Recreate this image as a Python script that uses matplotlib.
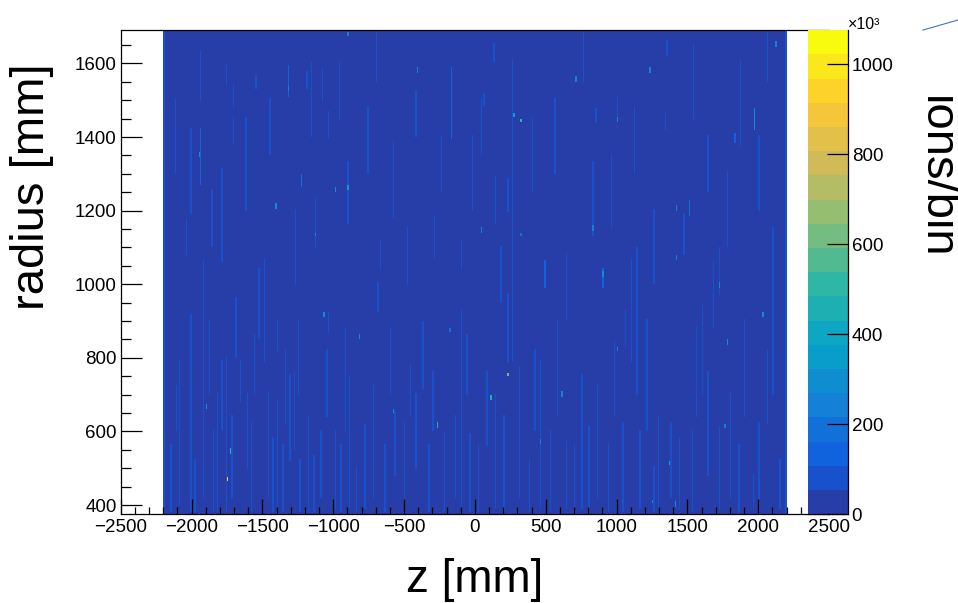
import numpy as np
import matplotlib
matplotlib.use("Agg")
import matplotlib.pyplot as plt
from matplotlib.colors import LinearSegmentedColormap, ListedColormap, BoundaryNorm
from matplotlib.lines import Line2D

plt.rcParams['font.family'] = ['Liberation Sans', 'DejaVu Sans']

# binning of the histogram (mm)
z_edges = np.arange(-2200, 2201, 10)
r_edges = np.arange(375, 1691, 5)
background = 30          # x10^3 ions/bin, level of the quiet bins
z_max = 1076             # x10^3, top of the palette

# vertical streaks: z, r from, r to, content (x10^3)
streak_z = [-2195, 2195, -2007, -2007, -1936, -1936, -1918, -1786, -1786, -1753,
            -1753, -1701, -1701, -1541, -1527, -1484, -1400, -1315, -1221, -1127,
            -2040, -1659, -1607, -1306, -1273, -1188, -2083, -1847, -1426, -1400,
            -1233, -1140,
            -162, -576, -891, -289, -364, -100, -100, -882, -684, -665,
            -1037, -1071, -411, -990, -778, -566, -213, -35, -1037,
            262, 234, 234, 832, 907, 493, 460, 751, 1001, 69,
            135, 850, 140, 149, 318, 643, 808, 1062, 1104,
            1971, 1872, 1143, 1722, 2107, 1519, 1604, 1477, 1350, 1684,
            1345, 1830, 1166, 1298, 1380, 1448, 1641, 1722, 1966, 2150,
            # lower part, denser
            -2150, -2110, -1980, -1880, -1820, -1720, -1690, -1580, -1560, -1460,
            -1360, -1340, -1250, -1180, -1090, -1050, -950, -920, -840, -720,
            -640, -600, -500, -460, -330, -300, -140, -60, 20, 80,
            200, 380, 420, 530, 580, 700, 860, 940, 980, 1040,
            1210, 1260, 1530, 1560, 1800, 1860, 1900, 2000, 2060,
            # upper part
            -2120, -1860, -1620, -1450, -1270, -1160, -960, -760, -700, -480,
            -420, -240, -20, 40, 180, 400, 560, 640, 760, 960,
            1120, 1260, 1540, 1640, 1780, 2000, 2060]
streak_r0 = [375, 375, 1190, 380, 1500, 1270, 420, 1062, 609, 1540,
             380, 1480, 1380, 1530, 850, 790, 820, 1510, 1265, 1095,
             1080, 680, 500, 520, 550, 1530, 400, 380, 380, 380,
             380, 380,
             1397, 1180, 1165, 1071, 718, 392, 1044, 392, 927, 1044,
             1397, 1497, 500, 392, 392, 480, 380, 380, 870,
             790, 1198, 790, 1134, 990, 990, 392, 392, 1443, 1488,
             1606, 1443, 1165, 392, 420, 392, 392, 830, 790,
             1424, 1379, 700, 971, 700, 1189, 700, 1080, 1624, 881,
             1424, 1388, 392, 392, 420, 392, 480, 392, 392, 392,
             380, 600, 380, 700, 380, 420, 800, 380, 700, 420,
             380, 620, 700, 380, 420, 640, 380, 600, 380, 420,
             380, 700, 380, 640, 380, 600, 420, 700, 380, 560,
             380, 380, 600, 380, 640, 380, 420, 380, 640, 380,
             600, 380, 380, 640, 420, 380, 640, 380, 620,
             1300, 1100, 1200, 1350, 1000, 1400, 1450, 1300, 1550, 1000,
             1400, 1250, 1200, 1350, 950, 1250, 1300, 900, 1550, 1150,
             1300, 1000, 1450, 1250, 1100, 1200, 1550]
streak_r1 = [1690, 1690, 1424, 917, 1633, 1424, 1060, 1310, 790, 1590,
             800, 1540, 1450, 1560, 1040, 1068, 900, 1590, 1295, 1230,
             1175, 790, 700, 750, 760, 1575, 790, 600, 580, 680,
             520, 530,
             1587, 1388, 1333, 1180, 899, 926, 1116, 745, 1000, 1116,
             1469, 1587, 700, 600, 618, 654, 590, 590, 920,
             1609, 1289, 970, 1333, 1044, 1062, 790, 754, 1506, 1515,
             1651, 1479, 1290, 700, 770, 573, 610, 925, 1062,
             1479, 1606, 1098, 1098, 1152, 1225, 944, 1189, 1660, 1062,
             1461, 1406, 600, 640, 620, 580, 760, 610, 480, 520,
             560, 720, 520, 900, 700, 640, 960, 620, 860, 700,
             560, 820, 900, 640, 600, 820, 560, 880, 500, 720,
             560, 880, 620, 780, 560, 760, 640, 860, 560, 760,
             640, 520, 820, 600, 900, 560, 720, 560, 840, 620,
             900, 500, 600, 880, 700, 560, 900, 620, 820,
             1500, 1250, 1450, 1500, 1200, 1600, 1600, 1480, 1690, 1150,
             1520, 1400, 1400, 1500, 1100, 1450, 1500, 1080, 1690, 1350,
             1480, 1200, 1650, 1400, 1300, 1400, 1690]
streak_v = [70, 70, 90, 80, 100, 110, 75, 90, 85, 80,
            90, 90, 80, 80, 90, 85, 80, 150, 200, 90,
            80, 85, 90, 90, 85, 80, 75, 80, 85, 80,
            85, 90,
            110, 90, 85, 85, 90, 85, 80, 90, 85, 80,
            85, 80, 90, 95, 90, 85, 90, 85, 85,
            75, 100, 90, 100, 150, 110, 90, 90, 100, 90,
            90, 90, 80, 90, 85, 90, 90, 85, 80,
            280, 100, 90, 100, 85, 200, 90, 90, 90, 90,
            90, 150, 90, 85, 90, 90, 85, 90, 90, 80,
            85, 80, 90, 80, 85, 90, 80, 85, 80, 90,
            85, 80, 85, 90, 85, 80, 85, 80, 90, 85,
            90, 80, 85, 80, 90, 80, 85, 80, 90, 85,
            85, 90, 80, 85, 80, 90, 85, 90, 80, 85,
            80, 85, 90, 80, 85, 90, 80, 85, 80,
            75, 80, 75, 80, 80, 75, 80, 75, 80, 80,
            80, 75, 80, 75, 80, 75, 80, 80, 80, 80,
            75, 80, 75, 80, 80, 75, 80]

# single bright bins: z, r, content (x10^3)
hot_z = [-1741, -1725, -1894, -1941, -1410, -1127, -1315, -891, -986, -1061,
         -811, -261, -571, -402, -896, -176, 276, 328, 832, 907,
         234, 116, 460, 610, 1001, 714, 1001, 45, 328, 1722,
         1782, 2032, 1425, 1425, 1764, 1373, 1251, 1415, 1237, 2122]
hot_r = [469, 546, 668, 1352, 1212, 1134, 1533, 1263, 1258, 917,
         858, 618, 654, 1583, 1679, 875, 1460, 1444, 1152, 1026,
         754, 691, 573, 701, 1447, 1556, 825, 1148, 1134, 998,
         841, 917, 1207, 1071, 614, 514, 410, 401, 1583, 1651]
hot_v = [950, 520, 350, 300, 280, 300, 250, 350, 300, 300,
         300, 450, 300, 250, 250, 200, 350, 500, 250, 280,
         600, 450, 220, 250, 300, 250, 250, 220, 200, 300,
         300, 280, 250, 250, 260, 400, 300, 280, 220, 220]

cb_ticks = [0, 200, 400, 600, 800, 1000]


def bin_of(edges, v):
    return int(np.clip(np.searchsorted(edges, v, side='right') - 1, 0, len(edges) - 2))


counts = np.full((len(r_edges) - 1, len(z_edges) - 1), float(background))
for z, r0, r1, v in zip(streak_z, streak_r0, streak_r1, streak_v):
    iz = bin_of(z_edges, z)
    a, b = bin_of(r_edges, r0), bin_of(r_edges, r1)
    counts[a:b + 1, iz] = np.maximum(counts[a:b + 1, iz], v)
for z, r, v in zip(hot_z, hot_r, hot_v):
    iz = bin_of(z_edges, z)
    a, b = bin_of(r_edges, r - 4), bin_of(r_edges, r + 4)
    counts[a:b + 1, iz] = np.maximum(counts[a:b + 1, iz], v)

# ROOT kBird palette, 20 contour levels
stops = [0.0, 0.125, 0.25, 0.375, 0.5, 0.625, 0.75, 0.875, 1.0]
red = [0.2082, 0.0592, 0.0780, 0.0232, 0.1802, 0.5301, 0.8186, 0.9956, 0.9764]
green = [0.1664, 0.3599, 0.5041, 0.6419, 0.7178, 0.7492, 0.7328, 0.7862, 0.9832]
blue = [0.5293, 0.8684, 0.8385, 0.7914, 0.6425, 0.4662, 0.3499, 0.1968, 0.0539]
bird = LinearSegmentedColormap.from_list(
    'bird', list(zip(stops, zip(red, green, blue))), N=255)
ncont = 20
level_cols = [bird(int((i + 0.99) * 255 / ncont) / 254) for i in range(ncont)]
cmap = ListedColormap(level_cols)
levels = np.linspace(0, z_max * 1e3, ncont + 1)
norm = BoundaryNorm(levels, ncont)

W, H = 958, 603
fig = plt.figure(figsize=(W / 100, H / 100), dpi=100)
ax = fig.add_axes([120.7 / W, 88.7 / H, 708.3 / W, 484 / H])
cax = fig.add_axes([808 / W, 88.7 / H, 40 / W, 484 / H])

ax.pcolormesh(z_edges, r_edges, counts * 1e3, cmap=cmap, norm=norm, rasterized=True)
ax.set_xlim(-2500, 2500)
ax.set_ylim(375, 1690)
ax.set_xticks(np.arange(-2500, 2501, 500))
ax.set_xticks(np.arange(-2500, 2501, 100), minor=True)
ax.set_yticks(np.arange(400, 1601, 200))
ax.set_yticks(np.arange(400, 1690, 50), minor=True)
ax.tick_params(axis='both', which='both', direction='in', labelsize=13.5, width=0.9)
ax.tick_params(axis='x', which='major', length=11, pad=3.6)
ax.tick_params(axis='x', which='minor', length=5)
ax.tick_params(axis='y', which='major', length=15, pad=2.9)
ax.tick_params(axis='y', which='minor', length=7.5)
ax.spines['right'].set_visible(False)
for s in ['left', 'bottom', 'top']:
    ax.spines[s].set_linewidth(0.9)

# palette
cax.pcolormesh([0, 1], levels, ((levels[:-1] + levels[1:]) / 2).reshape(-1, 1),
               cmap=cmap, norm=norm)
cax.set_xlim(0, 1)
cax.set_ylim(0, z_max * 1e3)
cax.set_xticks([])
cax.set_yticks([t * 1e3 for t in cb_ticks])
cax.set_yticklabels([str(t) for t in cb_ticks])
cax.yaxis.set_ticks_position('right')
cax.tick_params(axis='y', direction='in', length=15, width=0.9, labelsize=13.5, pad=2.7)
cax.spines['left'].set_visible(False)
cax.spines['top'].set_visible(False)
cax.spines['right'].set_linewidth(0.9)
cax.spines['bottom'].set_linewidth(0.9)

fig.text(848 / W, 1 - 29 / H, '×10³', fontsize=11.5, ha='left', va='baseline')
fig.text(32 / W, 1 - 187 / H, 'radius [mm]', fontsize=34, rotation=90,
         ha='center', va='center')
fig.text(474.5 / W, 1 - 580 / H, 'z [mm]', fontsize=33, ha='center', va='center')
fig.text(936 / W, 1 - 177 / H, 'ions/bin', fontsize=34, rotation=270,
         ha='center', va='center')

fig.add_artist(Line2D([923 / W, 958 / W], [1 - 30 / H, 1 - 20 / H],
                      transform=fig.transFigure, color='#4a6fc4', lw=0.8))

fig.savefig('out.png', dpi=100)
